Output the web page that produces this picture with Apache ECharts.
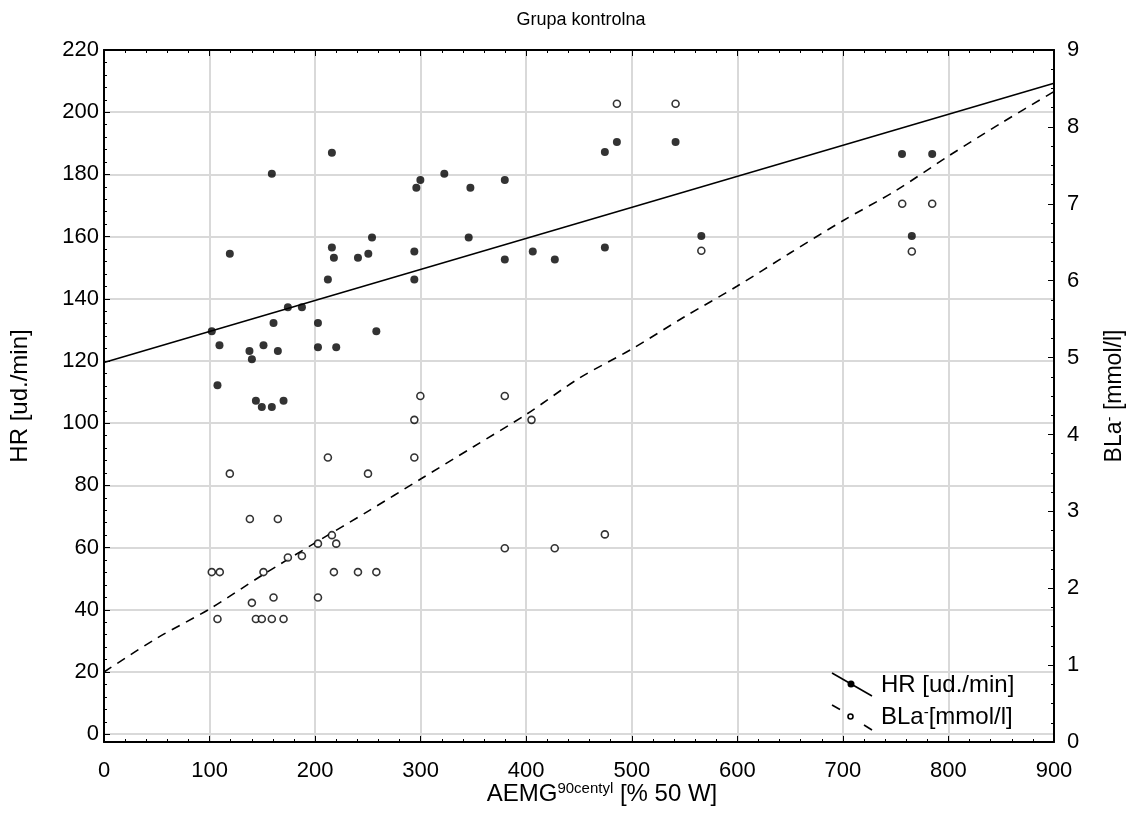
<!DOCTYPE html>
<html>
<head>
<meta charset="utf-8">
<script src="https://cdn.jsdelivr.net/npm/echarts@6/dist/echarts.min.js"></script>
<style>
html,body{margin:0;padding:0;background:#fff;}
#chart{width:1133px;height:832px;}
</style>
</head>
<body>
<div id="chart"></div>
<script>
// ---- data ----
const chartTitle = 'Grupa kontrolna';
const xTicks = [0, 100, 200, 300, 400, 500, 600, 700, 800, 900];
const hrTicks = [0, 20, 40, 60, 80, 100, 120, 140, 160, 180, 200, 220];
const blaTicks = [0, 1, 2, 3, 4, 5, 6, 7, 8, 9];

// HR points (filled circles, left axis)
const hrX = [102.1, 107.5, 109.4, 119.2, 137.8, 140.1, 143.9, 149.5, 151.1, 159.0, 159.0, 160.6, 164.7, 170.1, 174.2, 187.5,
  202.7, 202.7, 212.1, 215.9, 215.9, 217.8, 220.0, 240.6, 250.4, 253.9, 258.0, 294.0, 294.0, 295.9, 299.7, 322.4,
  345.5, 347.1, 379.7, 379.7, 406.2, 427.1, 474.5, 474.5, 485.9, 541.5, 565.9, 756.0, 765.3, 784.6];
const hrY = [129.6, 112.2, 125.1, 154.5, 123.2, 120.6, 107.2, 105.2, 125.1, 180.2, 105.2, 132.2, 123.2, 107.2, 137.3, 137.3,
  132.2, 124.4, 146.2, 187.0, 156.5, 153.2, 124.4, 153.2, 154.5, 159.7, 129.6, 155.2, 146.2, 175.7, 178.2, 180.2,
  159.7, 175.7, 178.2, 152.6, 155.2, 152.6, 156.5, 187.2, 190.4, 190.4, 160.2, 186.6, 160.2, 186.6];

// BLa points (open circles, right axis)
const blaX = [102.1, 107.5, 109.7, 119.2, 138.2, 140.1, 143.9, 149.5, 151.1, 159.0, 160.6, 164.7, 170.1, 174.2, 187.5,
  202.7, 202.7, 212.1, 215.9, 217.8, 220.0, 240.6, 250.1, 258.0, 294.0, 294.0, 299.7, 379.7, 379.7, 405.0, 427.0,
  474.5, 485.9, 541.5, 565.9, 756.2, 765.3, 784.6];
const blaY = [2.21, 1.60, 2.21, 3.49, 2.90, 1.81, 1.60, 1.60, 2.21, 1.60, 1.88, 2.90, 1.60, 2.40, 2.42,
  2.58, 1.88, 3.70, 2.69, 2.21, 2.58, 2.21, 3.49, 2.21, 4.19, 3.70, 4.50, 4.50, 2.52, 4.19, 2.52,
  2.70, 8.30, 8.30, 6.39, 7.00, 6.38, 7.00];

// fitted lines
const hrFitX = [0, 900];
const hrFitY = [119.5, 209.3];
const blaFitX = [0, 50, 100, 150, 200, 250, 300, 350, 400, 450, 500, 550, 600, 650, 700, 750, 800, 850, 900];
const blaFitY = [0.91, 1.35, 1.73, 2.17, 2.59, 3.00, 3.42, 3.84, 4.26, 4.73, 5.11, 5.53, 5.93, 6.36, 6.78, 7.17, 7.62, 8.05, 8.46];

const legendLabels = ['HR [ud./min]', 'BLa'];

// ---- chart ----
const chart = echarts.init(document.getElementById('chart'), null, {renderer: 'canvas'});
const FONT = 'Liberation Sans, Arial, sans-serif';
const TICK = 22;
const zip = (a, b) => a.map((v, i) => [v, b[i]]);

const gridL = 104, gridT = 50, gridR = 79, gridB = 90;

const option = {
  backgroundColor: '#ffffff',
  animation: false,
  title: {
    text: chartTitle,
    left: 576, textAlign: 'center', top: 6,
    textStyle: {fontFamily: FONT, fontSize: 18, fontWeight: 'normal', color: '#000'}
  },
  grid: {left: gridL, top: gridT, right: gridR, bottom: gridB, containLabel: false, outerBoundsMode: 'none'},
  xAxis: [{
    type: 'value', min: xTicks[0], max: xTicks[xTicks.length - 1], interval: 100,
    position: 'bottom',
    name: '{a|AEMG}{s|90centyl}{a| [% 50 W]}',
    nameLocation: 'middle', nameGap: 39, nameMoveOverlap: false,
    nameTextStyle: {padding: [0, 0, 0, 46], rich: {a: {fontFamily: FONT, fontSize: 24, color: '#000'}, s: {fontFamily: FONT, fontSize: 15, color: '#000', verticalAlign: 'top', padding: [0, 0, 12, 0]}}},
    axisLine: {show: true, onZero: false, lineStyle: {color: '#000', width: 2}},
    axisTick: {show: true, inside: true, length: 6, lineStyle: {color: '#000', width: 1}},
    minorTick: {show: true, splitNumber: 5, length: 3, lineStyle: {color: '#000', width: 1}},
    axisLabel: {fontFamily: FONT, fontSize: TICK, color: '#000', margin: 18},
    splitLine: {show: true, lineStyle: {color: '#d9d9d9', width: 2}}
  }, {
    type: 'value', min: xTicks[0], max: xTicks[xTicks.length - 1], interval: 100,
    position: 'top',
    axisLine: {show: true, onZero: false, lineStyle: {color: '#000', width: 2}},
    axisTick: {show: true, inside: true, length: 6, lineStyle: {color: '#000', width: 1}},
    minorTick: {show: true, splitNumber: 5, length: 3, lineStyle: {color: '#000', width: 1}},
    axisLabel: {show: false},
    splitLine: {show: false}
  }],
  yAxis: [{
    type: 'value', min: -2.5, max: hrTicks[hrTicks.length - 1], splitNumber: 11,
    position: 'left',
    name: 'HR [ud./min]', nameLocation: 'middle', nameGap: 72,
    nameTextStyle: {fontFamily: FONT, fontSize: 24, color: '#000'},
    axisLine: {show: true, onZero: false, lineStyle: {color: '#000', width: 2}},
    axisTick: {show: true, inside: true, length: 6, lineStyle: {color: '#000', width: 1}},
    minorTick: {show: true, splitNumber: 5, length: 3, lineStyle: {color: '#000', width: 1}},
    axisLabel: {fontFamily: FONT, fontSize: TICK, color: '#000', margin: 5,
      formatter: v => (hrTicks.indexOf(Math.round(v * 100) / 100) >= 0 ? String(v) : '')},
    splitLine: {show: true, lineStyle: {color: '#d9d9d9', width: 2}}
  }, {
    type: 'value', min: blaTicks[0], max: blaTicks[blaTicks.length - 1], interval: 1,
    position: 'right',
    name: '{a|BLa}{s|-}{a| [mmol/l]}', nameLocation: 'middle', nameGap: 48,
    nameTextStyle: {rich: {a: {fontFamily: FONT, fontSize: 23, color: '#000'}, s: {fontFamily: FONT, fontSize: 15, color: '#000', verticalAlign: 'top', padding: [0, 0, 11, 0]}}},
    axisLine: {show: true, onZero: false, lineStyle: {color: '#000', width: 2}},
    axisTick: {show: true, inside: true, length: 6, lineStyle: {color: '#000', width: 1}},
    minorTick: {show: true, splitNumber: 4, length: 3, lineStyle: {color: '#000', width: 1}},
    axisLabel: {fontFamily: FONT, fontSize: TICK, color: '#000', margin: 13},
    splitLine: {show: false}
  }],
  series: [{
    name: 'HR fit', type: 'line', xAxisIndex: 0, yAxisIndex: 0,
    data: zip(hrFitX, hrFitY), showSymbol: false, symbol: 'none',
    lineStyle: {color: '#000', width: 1.6}, z: 2
  }, {
    name: 'BLa fit', type: 'line', xAxisIndex: 0, yAxisIndex: 1,
    data: zip(blaFitX, blaFitY), showSymbol: false, symbol: 'none', smooth: 0.3,
    lineStyle: {color: '#000', width: 1.6, type: [9, 7]}, z: 2
  }, {
    name: 'HR', type: 'scatter', xAxisIndex: 0, yAxisIndex: 0,
    data: zip(hrX, hrY), symbol: 'circle', symbolSize: 8,
    itemStyle: {color: '#000'}, z: 3
  }, {
    name: 'BLa', type: 'scatter', xAxisIndex: 0, yAxisIndex: 1,
    data: zip(blaX, blaY), symbol: 'circle', symbolSize: 7,
    itemStyle: {color: '#fff', borderColor: '#000', borderWidth: 1.6}, z: 3
  }],
  graphic: [
    {type: 'line', shape: {x1: 832, y1: 673, x2: 872, y2: 696}, style: {stroke: '#000', lineWidth: 1.6}, z: 10},
    {type: 'circle', shape: {cx: 851, cy: 684, r: 3.5}, style: {fill: '#000'}, z: 10},
    {type: 'text', left: 881, top: 673, style: {text: legendLabels[0], font: '24px ' + FONT, fill: '#000'}, z: 10},
    {type: 'line', shape: {x1: 832, y1: 705, x2: 840, y2: 709.5}, style: {stroke: '#000', lineWidth: 1.6}, z: 10},
    {type: 'line', shape: {x1: 864, y1: 725, x2: 872, y2: 730}, style: {stroke: '#000', lineWidth: 1.6}, z: 10},
    {type: 'circle', shape: {cx: 850.5, cy: 716.5, r: 2.5}, style: {fill: '#fff', stroke: '#000', lineWidth: 1.6}, z: 10},
    {type: 'text', left: 881, top: 705, style: {
      text: '{a|BLa}{s|-}{a|[mmol/l]}',
      rich: {a: {fontFamily: FONT, fontSize: 24, fill: '#000'}, s: {fontFamily: FONT, fontSize: 15, fill: '#000', verticalAlign: 'top', padding: [0, 0, 10, 0]}}
    }, z: 10}
  ]
};
chart.setOption(option);
</script>
</body>
</html>
